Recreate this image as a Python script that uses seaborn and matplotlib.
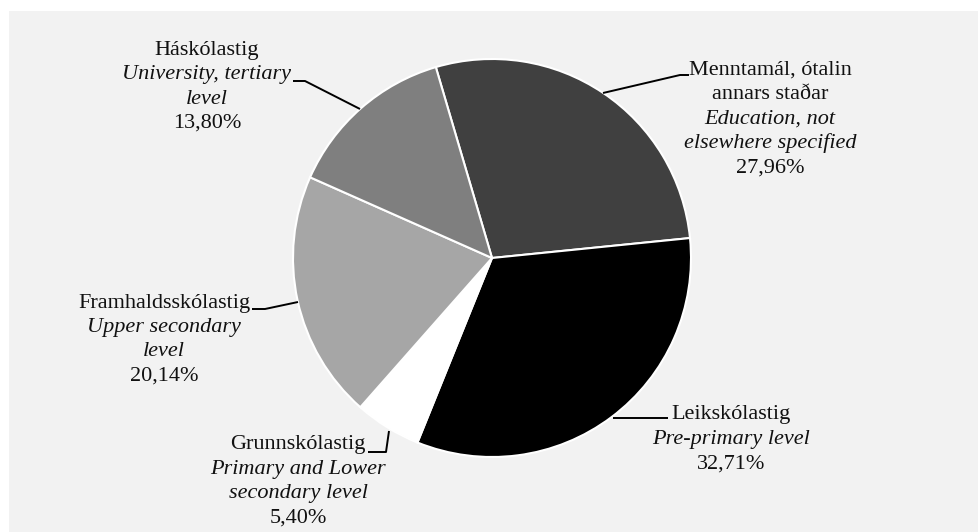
import matplotlib
matplotlib.use("Agg")
import matplotlib.pyplot as plt
import seaborn as sns
from matplotlib.patches import Rectangle

# data
cats_is = ["Menntamál, ótalin\nannars staðar", "Leikskólastig", "Grunnskólastig",
           "Framhaldsskólastig", "Háskólastig"]
cats_en = ["Education, not\nelsewhere specified", "Pre-primary level",
           "Primary and Lower\nsecondary level", "Upper secondary\nlevel",
           "University, tertiary\nlevel"]
shares = [27.96, 32.71, 5.40, 20.14, 13.80]
greys = ["#404040", "#000000", "#ffffff", "#a6a6a6", "#7f7f7f"]

W, H = 979, 532

sns.set_theme(style="white")
plt.rcParams['font.family'] = ['Liberation Serif', 'DejaVu Serif']

fig = plt.figure(figsize=(W / 100, H / 100), dpi=100)
fig.patch.set_facecolor("white")
ax = fig.add_axes([0, 0, 1, 1])

# light grey chart area
ax.add_patch(Rectangle((9, 0), W - 9, H - 11, facecolor="#f2f2f2",
                       edgecolor="none", zorder=0))

ax.pie(shares, colors=greys, startangle=106.4, counterclock=False,
       center=(492, H - 258), radius=199, frame=True,
       wedgeprops=dict(edgecolor="white", linewidth=1.5))

ax.set_xlim(0, W)
ax.set_ylim(0, H)
ax.set_aspect("equal")
ax.axis("off")

# label layout: (centre x, first line y in px from top), leader line points
label_pos = [(770, 70), (731, 415), (298, 445), (164, 303), (207, 50)]
leaders = [
    [(603, 93), (680, 75), (689, 75)],
    [(613, 418), (668, 418)],
    [(368, 452), (386, 452), (389, 431)],
    [(252, 309), (265, 309), (298, 302)],
    [(293, 81), (305, 81), (360, 109)],
]
step = 24.5
fs = 16

for k in range(len(shares)):
    lines = [(t, "normal") for t in cats_is[k].split("\n")]
    lines += [(t, "italic") for t in cats_en[k].split("\n")]
    lines.append((f"{shares[k]:.2f}".replace(".", ",") + "%", "normal"))
    x0, y0 = label_pos[k]
    for i, (t, st) in enumerate(lines):
        ax.text(x0, H - (y0 + i * step), t, ha="center", va="center",
                fontsize=fs, style=st, color="#111111")
    xs = [p[0] for p in leaders[k]]
    ys = [H - p[1] for p in leaders[k]]
    ax.plot(xs, ys, color="black", linewidth=1.4, solid_capstyle="butt")

fig.savefig("out.png", dpi=100)
